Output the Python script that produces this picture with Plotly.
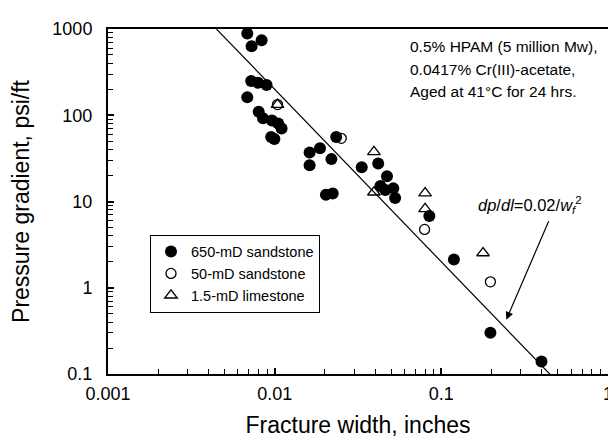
import plotly.graph_objects as go

# 650-mD sandstone (filled circles)
w_650 = [0.00685, 0.00835, 0.00727, 0.00723, 0.00795, 0.00894, 0.00685, 0.00802,
         0.00852, 0.00963, 0.0105, 0.0110, 0.00953, 0.00996, 0.0234, 0.0162,
         0.0187, 0.0219, 0.0162, 0.0203, 0.0223, 0.0333, 0.0418, 0.0472,
         0.0431, 0.0461, 0.0515, 0.0528, 0.0847, 0.119, 0.197, 0.399]
dp_650 = [889, 740, 632, 249, 238, 224, 162, 110,
          92, 87, 80, 70, 56, 53, 56, 37,
          41.5, 31, 26.3, 12.0, 12.4, 25.0, 27.5, 19.6,
          15.1, 13.6, 14.2, 11.0, 6.8, 2.12, 0.30, 0.14]

# 50-mD sandstone (open circles)
w_50 = [0.0104, 0.0251, 0.0793, 0.197]
dp_50 = [133, 54, 4.75, 1.17]

# 1.5-mD limestone (open triangles)
w_15 = [0.0104, 0.0394, 0.0394, 0.0799, 0.0799, 0.178]
dp_15 = [133, 37.7, 12.8, 12.5, 8.2, 2.53]

# correlation dp/dl = 0.02 / wf^2
coef = 0.02
line_w = [0.001, 0.003, 0.01, 0.03, 0.1, 0.3, 1.0]
line_dp = [coef / w ** 2 for w in line_w]

x_ticks = [0.001, 0.01, 0.1, 1]
x_labels = ["0.001", "0.01", "0.1", "1"]
y_ticks = [0.1, 1, 10, 100, 1000]
y_labels = ["0.1", "1", "10", "100", "1000"]

note_lines = ["0.5% HPAM (5 million Mw),", "0.0417% Cr(III)-acetate,", "Aged at 41°C for 24 hrs."]

FONT = "Liberation Sans, Arial, sans-serif"

fig = go.Figure()

fig.add_trace(go.Scatter(
    x=line_w, y=line_dp, mode="lines",
    line=dict(color="black", width=1.2),
    showlegend=False, hoverinfo="skip"
))

fig.add_trace(go.Scatter(
    x=w_650, y=dp_650, mode="markers", name="650-mD sandstone",
    marker=dict(symbol="circle", size=12, color="black")
))
fig.add_trace(go.Scatter(
    x=w_50, y=dp_50, mode="markers", name="50-mD sandstone",
    marker=dict(symbol="circle-open", size=10, color="black", line=dict(width=1.3))
))
fig.add_trace(go.Scatter(
    x=w_15, y=dp_15, mode="markers", name="1.5-mD limestone",
    marker=dict(symbol="triangle-up-open", size=11, color="black", line=dict(width=1.3))
))

minor_x = [m * 10 ** e for e in range(-3, 0) for m in range(2, 10)]
minor_y = [m * 10 ** e for e in range(-1, 3) for m in range(2, 10)]

fig.update_xaxes(
    type="log", range=[-3, 0],
    tickvals=x_ticks, ticktext=x_labels,
    ticks="inside", ticklen=6, tickwidth=1.5, tickcolor="black",
    minor=dict(tickvals=minor_x, ticks="inside", ticklen=5, tickwidth=1.2, tickcolor="black", showgrid=False),
    showline=True, linecolor="black", linewidth=2, mirror=True,
    showgrid=False, zeroline=False,
    ticklabelstandoff=2,
    tickfont=dict(family=FONT, size=18, color="black"),
    title=dict(text="Fracture width, inches", font=dict(family=FONT, size=23, color="black"), standoff=14),
)
fig.update_yaxes(
    type="log", range=[-1, 3],
    tickvals=y_ticks, ticktext=y_labels,
    ticks="inside", ticklen=6, tickwidth=1.5, tickcolor="black",
    minor=dict(tickvals=minor_y, ticks="inside", ticklen=5, tickwidth=1.2, tickcolor="black", showgrid=False),
    showline=True, linecolor="black", linewidth=2, mirror=True,
    showgrid=False, zeroline=False,
    ticklabelstandoff=10,
    tickfont=dict(family=FONT, size=18, color="black"),
    title=dict(text="Pressure gradient, psi/ft", font=dict(family=FONT, size=23, color="black"), standoff=16),
)

for i, line in enumerate(note_lines):
    fig.add_annotation(
        xref="paper", yref="paper", x=0.6, y=0.948 - i * 0.064, xanchor="left", yanchor="middle",
        text=line, align="left", showarrow=False,
        font=dict(family=FONT, size=15.5, color="black"),
    )

fig.add_annotation(
    x=-0.61, y=-0.37, xref="x", yref="y",
    ax=43, ay=-100, axref="pixel", ayref="pixel",
    text="", showarrow=True, arrowhead=2, arrowsize=1.3, arrowwidth=1.2, arrowcolor="black",
)
fig.add_annotation(
    xref="paper", yref="paper", x=0.735, y=0.49, xanchor="left", yanchor="middle",
    text="<i>dp</i>/<i>dl</i>=0.02/<i>w</i><sub><i>f</i></sub><sup>2</sup>",
    showarrow=False, font=dict(family=FONT, size=16.5, color="black"),
)

fig.update_layout(
    width=616, height=442,
    margin=dict(l=100, r=11, t=17, b=76),
    paper_bgcolor="white", plot_bgcolor="white",
    legend=dict(
        x=0.084, y=0.404, xanchor="left", yanchor="top",
        bordercolor="black", borderwidth=1, bgcolor="white",
        font=dict(family=FONT, size=14.5, color="black"),
        itemwidth=30,
    ),
)

fig.write_html("out.html")
